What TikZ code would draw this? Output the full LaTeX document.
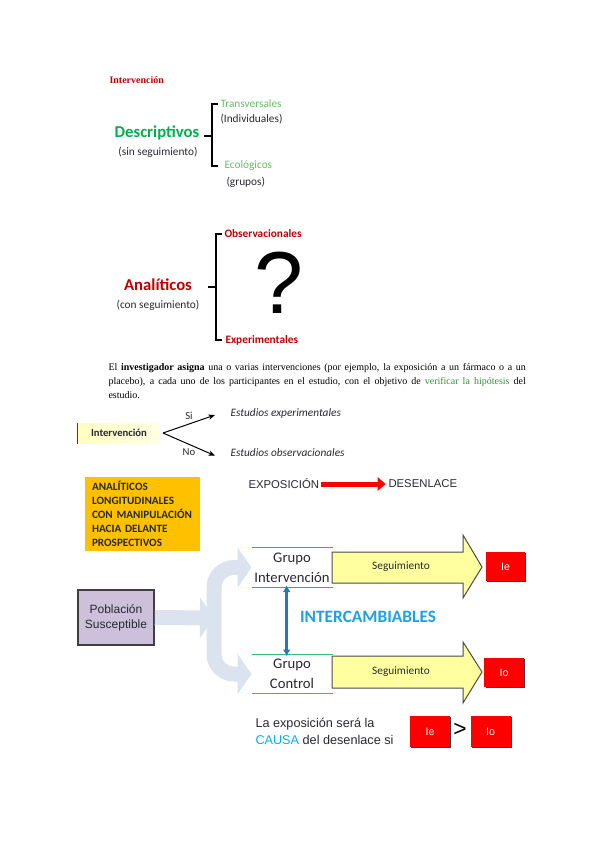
\documentclass[tikz,border=0pt]{standalone}
\usepackage{fontspec}
\setmainfont{Liberation Serif}
\newfontfamily\calibri{Carlito}
\newfontfamily\arial{Liberation Sans}
\usetikzlibrary{arrows.meta,shadows}

\definecolor{rojotit}{RGB}{192,0,0}
\definecolor{rojo}{RGB}{255,0,0}
\definecolor{verdedesc}{RGB}{0,176,80}
\definecolor{verdeclaro}{RGB}{102,190,100}
\definecolor{verdepar}{RGB}{56,142,60}
\definecolor{naranja}{RGB}{255,192,0}
\definecolor{lavanda}{RGB}{204,192,218}
\definecolor{azulgris}{RGB}{219,228,238}
\definecolor{amarillo}{RGB}{255,255,160}
\definecolor{celeste}{RGB}{0,176,240}
\definecolor{azulint}{RGB}{30,160,225}
\definecolor{azuldbl}{RGB}{46,117,182}
\definecolor{textoosc}{RGB}{40,40,50}

\tikzset{every picture/.style={line width=0.75pt}}
\tikzset{
  redbox/.style={fill=rojo, text=white, font=\arial\fontsize{8}{9}\selectfont,
    minimum width=29.5pt, minimum height=22pt, inner sep=0pt,
    drop shadow={shadow xshift=0.9pt, shadow yshift=-0.9pt, fill=black!75, opacity=1}},
  grupo/.style={align=center, font=\calibri\fontsize{11}{15}\selectfont,
    text=textoosc, minimum width=60pt, minimum height=29pt, inner sep=0pt},
  spread/.style={draw=azulgris, line width=11.25pt, rounded corners=15pt,
    -{Triangle[length=10.5pt,width=30pt]}},
  flechaam/.style={fill=amarillo, draw=black!70, line width=0.75pt},
  llave/.style={draw=black, line width=0.9pt},
}

\begin{document}
\begin{tikzpicture}[x=0.75pt,y=0.75pt,yscale=-1,xscale=1]
\path[use as bounding box] (0,0) rectangle (600,848);

% Text Node
\draw (108,80) node [anchor=west][inner sep=0.75pt] [font=\bfseries\fontsize{7.5}{9}\selectfont, text=rojotit] (tit) {Intervención};

%Descriptivos
\draw (157,133) node [inner sep=0.75pt] [font=\calibri\bfseries\fontsize{12.5}{14}\selectfont, text=verdedesc] (desc) {Descriptivos};
\draw (158,152) node [inner sep=0.75pt] [font=\calibri\fontsize{8.5}{10}\selectfont, text=textoosc] (descsub) {(sin seguimiento)};
%Brace
\draw [llave] (218,104) -- (212,104) -- (212,166) -- (218,166) ;
\draw [llave] (204,136) -- (212,136) ;
% Text Node
\draw (219,104) node [anchor=west][inner sep=0.75pt] [font=\calibri\fontsize{8.5}{10}\selectfont, text=verdeclaro] (trans) {Transversales};
\draw (219,119) node [anchor=west][inner sep=0.75pt] [font=\calibri\fontsize{8.5}{10}\selectfont, text=textoosc] (indiv) {(Individuales)};
\draw (223,166) node [anchor=west][inner sep=0.75pt] [font=\calibri\fontsize{8.5}{10}\selectfont, text=verdeclaro] (ecol) {Ecológicos};
\draw (225,182) node [anchor=west][inner sep=0.75pt] [font=\calibri\fontsize{8.5}{10}\selectfont, text=textoosc] (grup) {(grupos)};

%Analiticos
\draw (158,285) node [inner sep=0.75pt] [font=\calibri\bfseries\fontsize{12.5}{14}\selectfont, text=rojotit] (anal) {Analíticos};
\draw (158,305) node [inner sep=0.75pt] [font=\calibri\fontsize{8.5}{10}\selectfont, text=textoosc] (analsub) {(con seguimiento)};
%Brace
\draw [llave] (222,234) -- (216,234) -- (216,340) -- (222,340) ;
\draw [llave] (208,287) -- (216,287) ;
% Text Node
\draw (223,234) node [anchor=west][inner sep=0.75pt] [font=\calibri\bfseries\fontsize{8.5}{10}\selectfont, text=rojotit] (obs) {Observacionales};
\draw (224,340) node [anchor=west][inner sep=0.75pt] [font=\calibri\bfseries\fontsize{8.5}{10}\selectfont, text=rojotit] (exper) {Experimentales};
\draw (279,283) node [inner sep=0pt] [font=\arial\fontsize{66}{70}\selectfont] (preg) {?};

%Paragraph
\draw (108,363) node [anchor=north west][inner sep=0pt] [text width=313pt, align=justify, font=\fontsize{7.5}{10.5}\selectfont] (par) {El \textbf{investigador asigna} una o varias intervenciones (por ejemplo, la exposición a un fármaco o a un placebo), a cada uno de los participantes en el estudio, con el objetivo de \textcolor{verdepar}{verificar la hipótesis} del\linebreak estudio.};

%Intervencion box
\draw (119,433) node [inner sep=0pt, minimum width=61.5pt, minimum height=15pt, left color={rgb,255:red,255;green,255;blue,190}, right color={rgb,255:red,255;green,255;blue,230}] [font=\calibri\bfseries\fontsize{8}{9}\selectfont, text=textoosc] (iv) {Intervención};
\draw [line width=1.4pt, black!75] (iv.north west) -- (iv.south west) ;
% Text Node
\draw (229,413) node [anchor=west][inner sep=0.75pt] [font=\calibri\itshape\fontsize{8.5}{10}\selectfont, text=textoosc] (estexp) {Estudios experimentales};
\draw (229,453) node [anchor=west][inner sep=0.75pt] [font=\calibri\itshape\fontsize{8.5}{10}\selectfont, text=textoosc] (estobs) {Estudios observacionales};
\coordinate (fork) at (163,433) ;
%Straight Lines
\draw [-{Stealth[length=5pt,width=4pt]}] (fork) -- ([xshift=-10.5pt,yshift=1.5pt]estexp.west) ;
\draw [-{Stealth[length=5pt,width=4pt]}] (fork) -- ([xshift=-10.5pt,yshift=2pt]estobs.west) ;
\draw (189,416) node [inner sep=0.75pt] [font=\calibri\fontsize{8}{9}\selectfont, text=textoosc] (si) {Si};
\draw (189,452) node [inner sep=0.75pt] [font=\calibri\fontsize{8}{9}\selectfont, text=textoosc] (no) {No};

%Orange box
\draw (142.5,514) node [fill=naranja, inner xsep=5.25pt, inner ysep=0pt, minimum height=55.5pt, text width=75.75pt, align=left] [font=\calibri\bfseries\fontsize{8.4}{10.6}\selectfont, text=textoosc] (naranja) {ANALÍTICOS\\LONGITUDINALES\\CON MANIPULACIÓN\\HACIA DELANTE\\PROSPECTIVOS};

%Exposicion
\draw (247,484) node [anchor=west][inner sep=0.75pt] [font=\arial\fontsize{8.5}{9}\selectfont, text=textoosc] (expo) {EXPOSICIÓN};
\draw (387,484) node [anchor=west][inner sep=0.75pt] [font=\arial\fontsize{8.5}{9}\selectfont, text=textoosc] (desen) {DESENLACE};
\draw [rojo, line width=3.75pt, -{Triangle[length=6pt,width=10pt]}] (expo.east) -- ([xshift=-1pt]desen.west) ;

%Poblacion
\draw (116,617.5) node [fill=lavanda, draw=black!75, line width=1.2pt, minimum width=57pt, minimum height=41pt, inner sep=0pt, align=center, drop shadow={shadow xshift=0.9pt, shadow yshift=-0.9pt, fill=black!40, opacity=1}] [font=\arial\fontsize{9}{11.25}\selectfont, text=textoosc] (pob) {Población\\Susceptible};

%Grupos
\draw (292,567.5) node [grupo] (gi) {Grupo\\Intervención};
\draw (292,674) node [grupo] (gc) {Grupo\\Control};
\draw [celeste] (gi.north west) -- (gi.north east) ;
\draw [celeste] (gi.south west) -- (gi.south east) ;
\draw [verdedesc!80] (gc.north west) -- (gc.north east) ;
\draw [verdedesc!80] (gc.south west) -- (gc.south east) ;

%Spread arrow
\draw [spread] (pob.east) -- (214,618) ;
\draw [spread] (214,618) |- (gi.west) ;
\draw [spread] (214,618) |- (gc.west) ;

%Double arrow
\draw [azuldbl, line width=2pt, {Latex[length=5pt,width=6pt]}-{Latex[length=5pt,width=6pt]}] ([xshift=-4pt,yshift=-1.5pt]gi.south) -- ([xshift=-4pt,yshift=1.5pt]gc.north) ;
\draw (368,617) node [inner sep=0.75pt] [font=\calibri\bfseries\fontsize{13}{15}\selectfont, text=azulint] (inter) {INTERCAMBIABLES};

%Yellow arrows
\draw [flechaam] (332,552) -- (463,552) -- (463,535) -- (482,567) -- (463,598) -- (463,583) -- (332,583) -- cycle ;
\draw (401,567) node [inner sep=0.75pt] [font=\calibri\fontsize{8.5}{9}\selectfont, text=textoosc] (seg1) {Seguimiento};
\draw [flechaam] (332,656) -- (463,656) -- (463,642) -- (482,672) -- (463,703) -- (463,688) -- (332,688) -- cycle ;
\draw (401,672) node [inner sep=0.75pt] [font=\calibri\fontsize{8.5}{9}\selectfont, text=textoosc] (seg2) {Seguimiento};

%Red boxes
\draw (505.5,566.5) node [redbox] (ie) {Ie};
\draw (504,672.5) node [redbox] (io) {Io};

%Bottom
\draw (254,731.5) node [anchor=west][inner sep=0.75pt] [align=left, font=\arial\fontsize{9.5}{12.75}\selectfont, text=textoosc] (causa) {La exposición será la\\\textcolor{celeste}{CAUSA} del desenlace si};
\draw (430,731.5) node [redbox, minimum width=30pt, minimum height=23pt] (ie2) {Ie};
\draw (460,730) node [inner sep=0pt] [font=\arial\fontsize{17}{18}\selectfont] (mayor) {>};
\draw (490.5,731.5) node [redbox, minimum width=30pt, minimum height=23pt] (io2) {Io};

\end{tikzpicture}
\end{document}
